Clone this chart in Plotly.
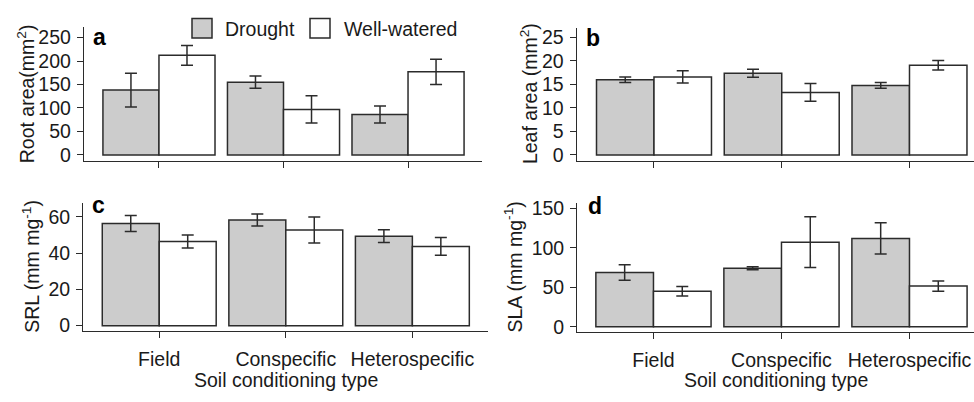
import plotly.graph_objects as go

# ---------------- data ----------------
categories = ["Field", "Conspecific", "Heterospecific"]
treatments = ["Drought", "Well-watered"]

root_area_drought = [138, 155, 86]
root_area_drought_se = [36, 13, 18]
root_area_wet = [212, 97, 177]
root_area_wet_se = [21, 29, 27]

leaf_area_drought = [16.0, 17.4, 14.8]
leaf_area_drought_se = [0.6, 0.85, 0.6]
leaf_area_wet = [16.6, 13.3, 19.1]
leaf_area_wet_se = [1.3, 1.9, 1.0]

srl_drought = [56.4, 58.3, 49.4]
srl_drought_se = [4.4, 3.3, 3.5]
srl_wet = [46.5, 52.8, 43.7]
srl_wet_se = [3.6, 7.2, 4.9]

sla_drought = [68.7, 74, 111.7]
sla_drought_se = [9.8, 2, 19.8]
sla_wet = [45, 107, 51.5]
sla_wet_se = [6, 32, 6.5]

panel_letters = ["a", "b", "c", "d"]
y_titles = ["Root area(mm<sup>2</sup>)", "Leaf area (mm<sup>2</sup>)",
            "SRL (mm mg<sup>-1</sup>)", "SLA (mm mg<sup>-1</sup>)"]
x_title = "Soil conditioning type"

# ---------------- style ----------------
W, H = 974, 402
FONT = "Liberation Sans, Arial, sans-serif"
TXT = "#1a1a1a"
EDGE = "#2b2b2b"
fills = ["#cccccc", "#ffffff"]


def px_x(p):
    return p / W


def px_y(p):
    return 1 - p / H


panels = [
    dict(d=root_area_drought, dse=root_area_drought_se, w=root_area_wet, wse=root_area_wet_se,
         xdom=(84, 482), ydom=(22, 160), xr=[-0.602, 2.594], yr=[-13.4, 271.7], dtick=50,
         bottom=False, ytx=26, letter_xy=(91, 32)),
    dict(d=leaf_area_drought, dse=leaf_area_drought_se, w=leaf_area_wet, wse=leaf_area_wet_se,
         xdom=(576.7, 974), ydom=(22.3, 159.3), xr=[-0.605, 2.505], yr=[-1.2, 27.1], dtick=5,
         bottom=False, ytx=529, letter_xy=(584, 32.5)),
    dict(d=srl_drought, dse=srl_drought_se, w=srl_wet, wse=srl_wet_se,
         xdom=(83.3, 488.3), ydom=(202.7, 335), xr=[-0.6, 2.6], yr=[-2.95, 67.9], dtick=20,
         bottom=True, ytx=31, letter_xy=(89.5, 205)),
    dict(d=sla_drought, dse=sla_drought_se, w=sla_wet, wse=sla_wet_se,
         xdom=(577.3, 974), ydom=(203.3, 336), xr=[-0.595, 2.504], yr=[-6.5, 156.2], dtick=50,
         bottom=True, ytx=513, letter_xy=(585.5, 206)),
]

fig = go.Figure()
annotations = []
layout_axes = {}

for i, p in enumerate(panels):
    k = "" if i == 0 else str(i + 1)
    xa, ya = "x" + k, "y" + k
    series = [(p["d"], p["dse"]), (p["w"], p["wse"])]
    for j, (vals, se) in enumerate(series):
        fig.add_trace(go.Bar(
            x=categories, y=vals, name=treatments[j], offsetgroup=str(j),
            xaxis=xa, yaxis=ya, showlegend=False,
            marker=dict(color=fills[j], line=dict(color=EDGE, width=1.5)),
            error_y=dict(type="data", array=se, color=EDGE, thickness=1.5, width=6),
        ))
    common = dict(showline=True, linecolor=EDGE, linewidth=1.4, ticks="outside",
                  ticklen=6, tickwidth=1.3, tickcolor=EDGE, showgrid=False, zeroline=False,
                  tickfont=dict(family=FONT, size=19.5, color=TXT), fixedrange=True)
    layout_axes["xaxis" + k] = dict(
        common, domain=[px_x(p["xdom"][0]), px_x(p["xdom"][1])], range=p["xr"],
        anchor=ya, type="category", showticklabels=p["bottom"], ticklabelstandoff=4)
    layout_axes["yaxis" + k] = dict(
        common, domain=[px_y(p["ydom"][1]), px_y(p["ydom"][0])], range=p["yr"],
        anchor=xa, tick0=0, dtick=p["dtick"], ticklabelstandoff=2)

    # y axis title
    annotations.append(dict(
        text=y_titles[i], textangle=-90, xref="paper", yref="paper",
        x=px_x(p["ytx"]), y=px_y((p["ydom"][0] + p["ydom"][1]) / 2),
        xanchor="center", yanchor="middle", showarrow=False,
        font=dict(family=FONT, size=19.5, color=TXT)))
    # panel letter
    annotations.append(dict(
        text="<b>" + panel_letters[i] + "</b>", xref="paper", yref="paper",
        x=px_x(p["letter_xy"][0]), y=px_y(p["letter_xy"][1]),
        xanchor="left", yanchor="middle", showarrow=False,
        font=dict(family=FONT, size=23, color="#000000")))
    if p["bottom"]:
        annotations.append(dict(
            text=x_title, xref="paper", yref="paper",
            x=px_x((p["xdom"][0] + p["xdom"][1]) / 2), y=px_y(386),
            xanchor="center", yanchor="middle", showarrow=False,
            font=dict(family=FONT, size=19.5, color=TXT)))

# legend drawn at the top (boxes + labels)
shapes = []
legend_boxes = [(192, 223), (310, 342)]
for j, (bx, tx) in enumerate(legend_boxes):
    shapes.append(dict(type="rect", xref="paper", yref="paper",
                       x0=px_x(bx), x1=px_x(bx + 20), y0=px_y(33), y1=px_y(13),
                       fillcolor=fills[j], line=dict(color=EDGE, width=1.5)))
    annotations.append(dict(
        text=treatments[j], xref="paper", yref="paper", x=px_x(tx), y=px_y(24),
        xanchor="left", yanchor="middle", showarrow=False,
        font=dict(family=FONT, size=19.5, color=TXT)))

fig.update_layout(
    width=W, height=H, margin=dict(l=0, r=0, t=0, b=0),
    paper_bgcolor="white", plot_bgcolor="white",
    barmode="group", bargap=0.1, bargroupgap=0,
    annotations=annotations, shapes=shapes, showlegend=False,
    **layout_axes,
)

fig.write_html(
    "out.html",
    config={"displayModeBar": False},
    post_script="document.body.style.margin='0px';document.body.style.overflow='hidden';",
)
